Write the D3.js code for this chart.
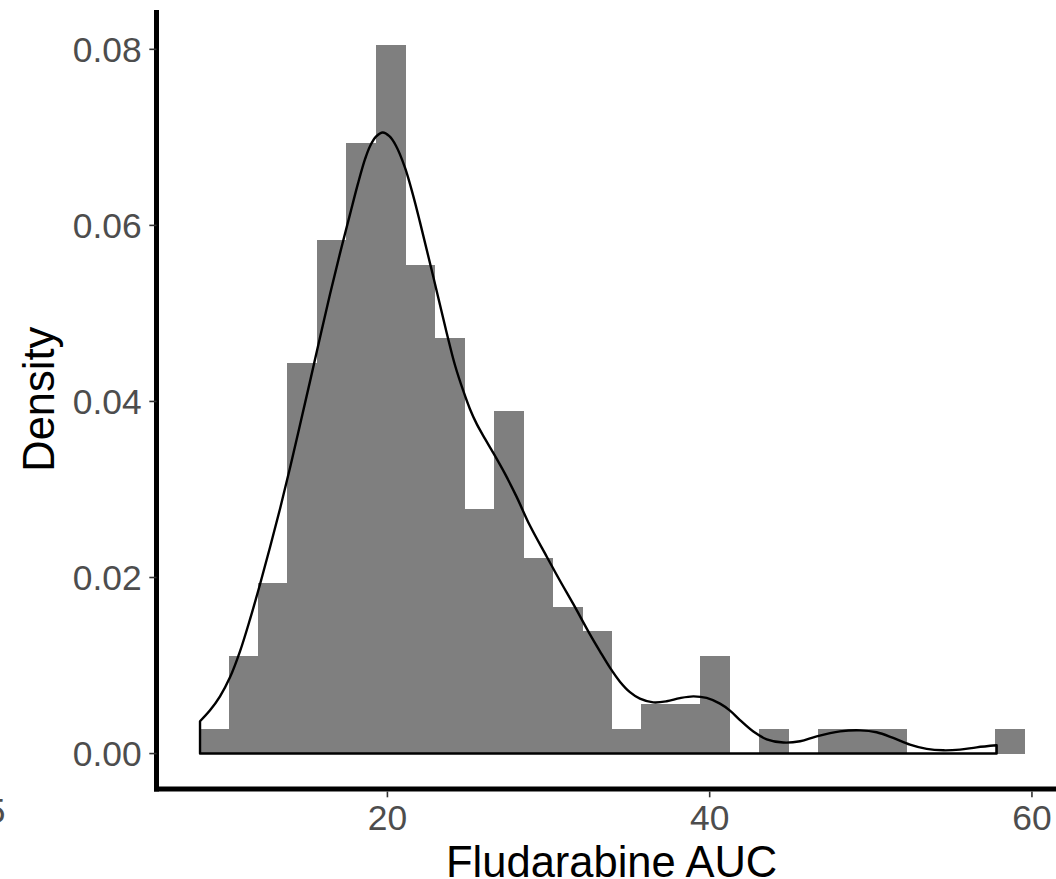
<!DOCTYPE html>
<html>
<head>
<meta charset="utf-8">
<script src="https://cdn.jsdelivr.net/npm/d3@7"></script>
<style>
  html, body { margin: 0; padding: 0; background: #ffffff; }
  svg { display: block; font-family: "Liberation Sans", Arial, Helvetica, sans-serif; }
</style>
</head>
<body>
<svg id="chart" width="1056" height="879"></svg>
<script>
// Histogram of Fludarabine AUC (density scale), 28 equal-width bins
const binStart = 8.31;
const binWidth = 1.829;
const binDensity = [
  0.0028, 0.0111, 0.0194, 0.0444, 0.0583, 0.0694, 0.0805, 0.0555,
  0.0472, 0.0278, 0.0389, 0.0222, 0.0167, 0.0139, 0.0028, 0.0056,
  0.0056, 0.0111, 0.0000, 0.0028, 0.0000, 0.0028, 0.0028, 0.0028,
  0.0000, 0.0000, 0.0000, 0.0028
];

// Kernel density estimate, sampled along x
const kdeX = [
  8.37, 8.99, 9.61, 10.23, 10.85, 11.47, 12.09, 12.71, 13.34, 13.96,
  14.58, 15.20, 15.82, 16.44, 17.06, 17.68, 18.18, 18.61, 18.92, 19.29,
  19.71, 20.12, 20.53, 21.09, 21.59, 22.02, 22.85, 23.68, 24.19, 24.71,
  25.12, 25.54, 26.06, 26.57, 27.30, 28.02, 28.85, 29.89, 30.71, 31.54,
  32.57, 33.19, 33.81, 34.43, 35.05, 35.67, 36.50, 37.33, 38.15, 38.98,
  39.81, 40.64, 41.26, 41.88, 42.71, 43.54, 44.57, 45.61, 46.64, 48.09,
  49.33, 50.36, 51.39, 52.43, 53.47, 54.50, 55.53, 56.57, 57.81
];
const kdeY = [
  0.00367, 0.00491, 0.00650, 0.00866, 0.01161, 0.01524, 0.01921, 0.02341, 0.02784, 0.03249,
  0.03737, 0.04231, 0.04730, 0.05220, 0.05685, 0.06128, 0.06480, 0.06752, 0.06900, 0.07008,
  0.07055, 0.07013, 0.06905, 0.06656, 0.06344, 0.06037, 0.05413, 0.04778, 0.04414, 0.04119,
  0.03915, 0.03745, 0.03575, 0.03416, 0.03177, 0.02916, 0.02587, 0.02236, 0.01963, 0.01697,
  0.01354, 0.01161, 0.00976, 0.00817, 0.00698, 0.00624, 0.00582, 0.00594, 0.00630, 0.00650,
  0.00632, 0.00567, 0.00488, 0.00380, 0.00250, 0.00162, 0.00125, 0.00140, 0.00196, 0.00252,
  0.00264, 0.00242, 0.00178, 0.00102, 0.00053, 0.00037, 0.00045, 0.00071, 0.00094
];

const xTicks = [20, 40, 60];
const yTicks = [0, 0.02, 0.04, 0.06, 0.08];
const xTitle = "Fludarabine AUC";
const yTitle = "Density";

const svg = d3.select("#chart");

// Panel bounds with a 5% expansion on each side of the data range
const binEnd = binStart + binWidth * binDensity.length;
const xPad = (binEnd - binStart) * 0.05;
const yMax = Math.max(d3.max(binDensity), d3.max(kdeY));
const yPad = yMax * 0.05;

const panel = { left: 157.8, right: 1065.5, top: 9.5, bottom: 789 };

const x = d3.scaleLinear()
  .domain([binStart - xPad, binEnd + xPad])
  .range([panel.left, panel.right]);
const y = d3.scaleLinear()
  .domain([-yPad, yMax + yPad])
  .range([panel.bottom, panel.top]);

// Bars
const bins = binDensity.map((d, i) => ({
  x0: binStart + i * binWidth,
  x1: binStart + (i + 1) * binWidth,
  d
}));
svg.append("g")
  .selectAll("rect")
  .data(bins.filter(b => b.d > 0))
  .join("rect")
  .attr("x", b => x(b.x0))
  .attr("width", b => x(b.x1) - x(b.x0) + 0.4)
  .attr("y", b => y(b.d))
  .attr("height", b => y(0) - y(b.d))
  .attr("fill", "#7f7f7f")
  .attr("shape-rendering", "crispEdges");

// Density outline: closed down to the baseline at both ends
const kde = kdeX.map((v, i) => [v, kdeY[i]]);
const curvePath = d3.line()
  .x(p => x(p[0]))
  .y(p => y(p[1]))
  .curve(d3.curveCatmullRom.alpha(0.5))(kde);
const first = kde[0], last = kde[kde.length - 1];
const outline = `M${x(first[0])},${y(0)}L` + curvePath.slice(1) +
  `L${x(last[0])},${y(0)}Z`;
svg.append("path")
  .attr("d", outline)
  .attr("fill", "none")
  .attr("stroke", "#000")
  .attr("stroke-width", 2.4)
  .attr("stroke-linejoin", "round");

// Axis lines
const axisLineX = 156.5;
svg.append("line")
  .attr("x1", axisLineX).attr("x2", axisLineX)
  .attr("y1", panel.top + 0.5).attr("y2", panel.bottom + 2.5)
  .attr("stroke", "#000").attr("stroke-width", 5);
svg.append("line")
  .attr("x1", axisLineX - 2.5).attr("x2", 1056)
  .attr("y1", panel.bottom).attr("y2", panel.bottom)
  .attr("stroke", "#000").attr("stroke-width", 5);

// Y ticks and labels
const yAxis = svg.append("g");
yAxis.selectAll("line")
  .data(yTicks)
  .join("line")
  .attr("x1", 149.3).attr("x2", axisLineX)
  .attr("y1", d => y(d)).attr("y2", d => y(d))
  .attr("stroke", "#333").attr("stroke-width", 1.6);
yAxis.selectAll("text")
  .data(yTicks)
  .join("text")
  .attr("x", 141.7)
  .attr("y", d => y(d) + 12.8)
  .attr("text-anchor", "end")
  .attr("font-size", 35.4)
  .attr("fill", "#4d4d4d")
  .text(d => d3.format(".2f")(d));

// X ticks and labels
const xAxis = svg.append("g");
xAxis.selectAll("line")
  .data(xTicks)
  .join("line")
  .attr("x1", d => x(d)).attr("x2", d => x(d))
  .attr("y1", panel.bottom + 2.5).attr("y2", 797.3)
  .attr("stroke", "#333").attr("stroke-width", 1.6);
xAxis.selectAll("text")
  .data(xTicks)
  .join("text")
  .attr("x", d => x(d))
  .attr("y", 830)
  .attr("text-anchor", "middle")
  .attr("font-size", 35.4)
  .attr("fill", "#4d4d4d")
  .text(d => d);

// Axis titles
svg.append("text")
  .attr("x", (panel.left + panel.right) / 2)
  .attr("y", 876.5)
  .attr("text-anchor", "middle")
  .attr("font-size", 43.5)
  .attr("fill", "#000")
  .text(xTitle);
svg.append("text")
  .attr("transform", `translate(54,${(panel.top + panel.bottom) / 2}) rotate(-90)`)
  .attr("text-anchor", "middle")
  .attr("font-size", 43.5)
  .attr("fill", "#000")
  .text(yTitle);

// Edge of the neighbouring panel's label
svg.append("text")
  .attr("x", 5.5)
  .attr("y", 823)
  .attr("text-anchor", "end")
  .attr("font-size", 35.4)
  .attr("fill", "#4d4d4d")
  .text("5");
</script>
</body>
</html>
